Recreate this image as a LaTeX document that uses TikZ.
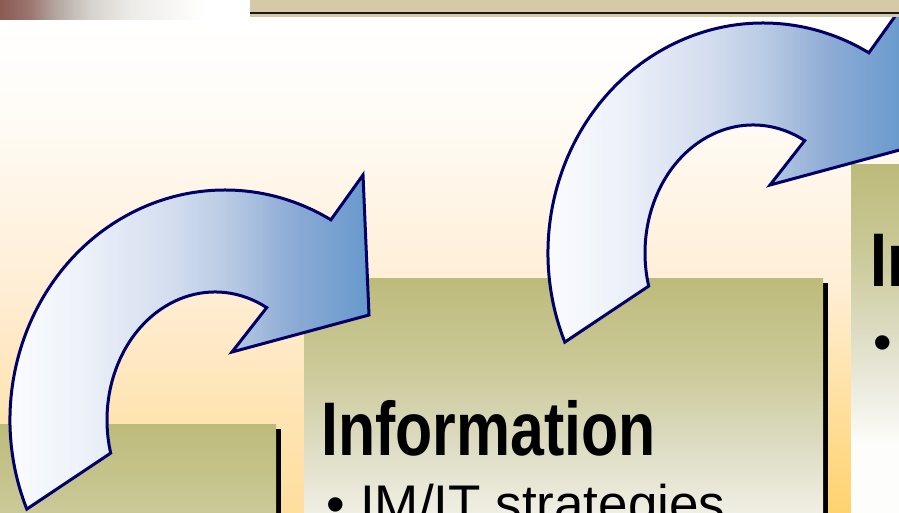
\documentclass[tikz,border=0pt]{standalone}
\usepackage{fontspec}
\setmainfont{Liberation Sans}
\newfontfamily\headfont[FakeStretch=0.8]{Liberation Sans}
\usetikzlibrary{shadows}
\definecolor{arrowline}{HTML}{000066}
\definecolor{arA}{HTML}{EEF2F9}
\definecolor{arB}{HTML}{D2DCEE}
\definecolor{arC}{HTML}{B5C8E2}
\definecolor{arD}{HTML}{8DABD5}
\definecolor{arE}{HTML}{6699CC}
\definecolor{boxA}{HTML}{BDBB7A}
\definecolor{boxB}{HTML}{CBCA9A}
\definecolor{boxC}{HTML}{DEDDC5}
\definecolor{boxD}{HTML}{F0EFE4}
\definecolor{boxE}{HTML}{FDFDFB}
\definecolor{bgA}{HTML}{FFFCF8}
\definecolor{bgB}{HTML}{FFF5E6}
\definecolor{bgC}{HTML}{FFEDD2}
\definecolor{bgD}{HTML}{FFE5B6}
\definecolor{bgE}{HTML}{FFDE9E}
\definecolor{phA}{HTML}{8A5A52}
\definecolor{phB}{HTML}{9C7670}
\definecolor{phC}{HTML}{B3A69F}
\definecolor{phD}{HTML}{D6D2CC}
\definecolor{phE}{HTML}{EDEBE8}
\definecolor{bartan}{HTML}{D6C9A6}
\definecolor{stripTop}{HTML}{FFEFD8}
\definecolor{stripMid}{HTML}{FFE3A8}
\definecolor{stripBot}{HTML}{FFD26E}
\pgfdeclarehorizontalshading{arrowshade}{100bp}{color(0bp)=(white); color(25bp)=(white); color(37.5bp)=(arA); color(50bp)=(arB); color(57.5bp)=(arC); color(65bp)=(arD); color(75bp)=(arE); color(100bp)=(arE)}
\pgfdeclareverticalshading{boxshade}{100bp}{color(0bp)=(boxE); color(35bp)=(boxE); color(41.4bp)=(boxD); color(50.6bp)=(boxC); color(61.8bp)=(boxB); color(75bp)=(boxA); color(100bp)=(boxA)}
\pgfdeclareverticalshading{bgshade}{100bp}{color(0bp)=(bgE); color(25bp)=(bgE); color(36bp)=(bgD); color(45.8bp)=(bgC); color(55.5bp)=(bgB); color(65.3bp)=(bgA); color(73bp)=(white); color(100bp)=(white)}
\pgfdeclarehorizontalshading{photoshade}{100bp}{color(0bp)=(phA); color(25bp)=(phA); color(32.3bp)=(phB); color(38.4bp)=(phC); color(47bp)=(phD); color(56.7bp)=(phE); color(75bp)=(white); color(100bp)=(white)}
\tikzset{
  boxpanel/.style={shade, shading=boxshade, draw=none, inner sep=0pt, outer sep=0pt, anchor=north west, minimum height=350pt,
    general shadow={shadow xshift=5pt, shadow yshift=-5pt, fill=black}},
  arrowbody/.style={shade, shading=arrowshade, draw=arrowline, line width=3pt, line join=miter},
  headtext/.style={inner sep=0pt, anchor=base west, font=\headfont\bfseries\fontsize{76}{80}\selectfont},
  bodytext/.style={inner sep=0pt, anchor=base west, font=\fontsize{53}{60}\selectfont},
  curvedarrow/.pic={
    \path[arrowbody] (26.8,509.1) arc[start angle=202.8, end angle=60.5, x radius=215pt, y radius=230pt]
      -- (363,175) -- (369,315) -- (232,352) -- (266.7,307.6)
      arc[start angle=61.4, end angle=195, x radius=108pt, y radius=128pt]
      -- cycle;
  }
}
\begin{document}
\begin{tikzpicture}[x=1pt,y=-1pt]
\useasboundingbox (0,0) rectangle (899,513);
\clip (0,0) rectangle (899,513);
% background
\shade[shading=bgshade] (0,0) rectangle (899,513);
\shade[top color=stripTop, middle color=stripMid, bottom color=stripBot] (823,280) rectangle (851,513);
% photo fragment
\shade[shading=photoshade] (0,0) rectangle (205,20);
% boxes
\node[boxpanel, minimum width=276pt] (box1) at (0,424) {};
\node[boxpanel, minimum width=519pt] (box2) at (304,278) {};
\node[boxpanel, minimum width=260pt] (box3) at (851,165) {};
% arrows
\pic (arrowone) at (0,0) {curvedarrow};
\pic (arrowtwo) at (538,-167) {curvedarrow};
% top bar
\fill[bartan] (250,0) rectangle (899,16.7);
\fill[black!90] (250,12.3) rectangle (899,14.3);
% texts
\node[headtext] (head2) at (321,455) {Information};
\node[bodytext] (bul2) at (326,522) {•};
\node[bodytext] (txt2) at (360,522) {IM/IT strategies};
\node[headtext] (head3) at (870,286) {In};
\node[bodytext] (bul3) at (873,360) {•};
\end{tikzpicture}
\end{document}
